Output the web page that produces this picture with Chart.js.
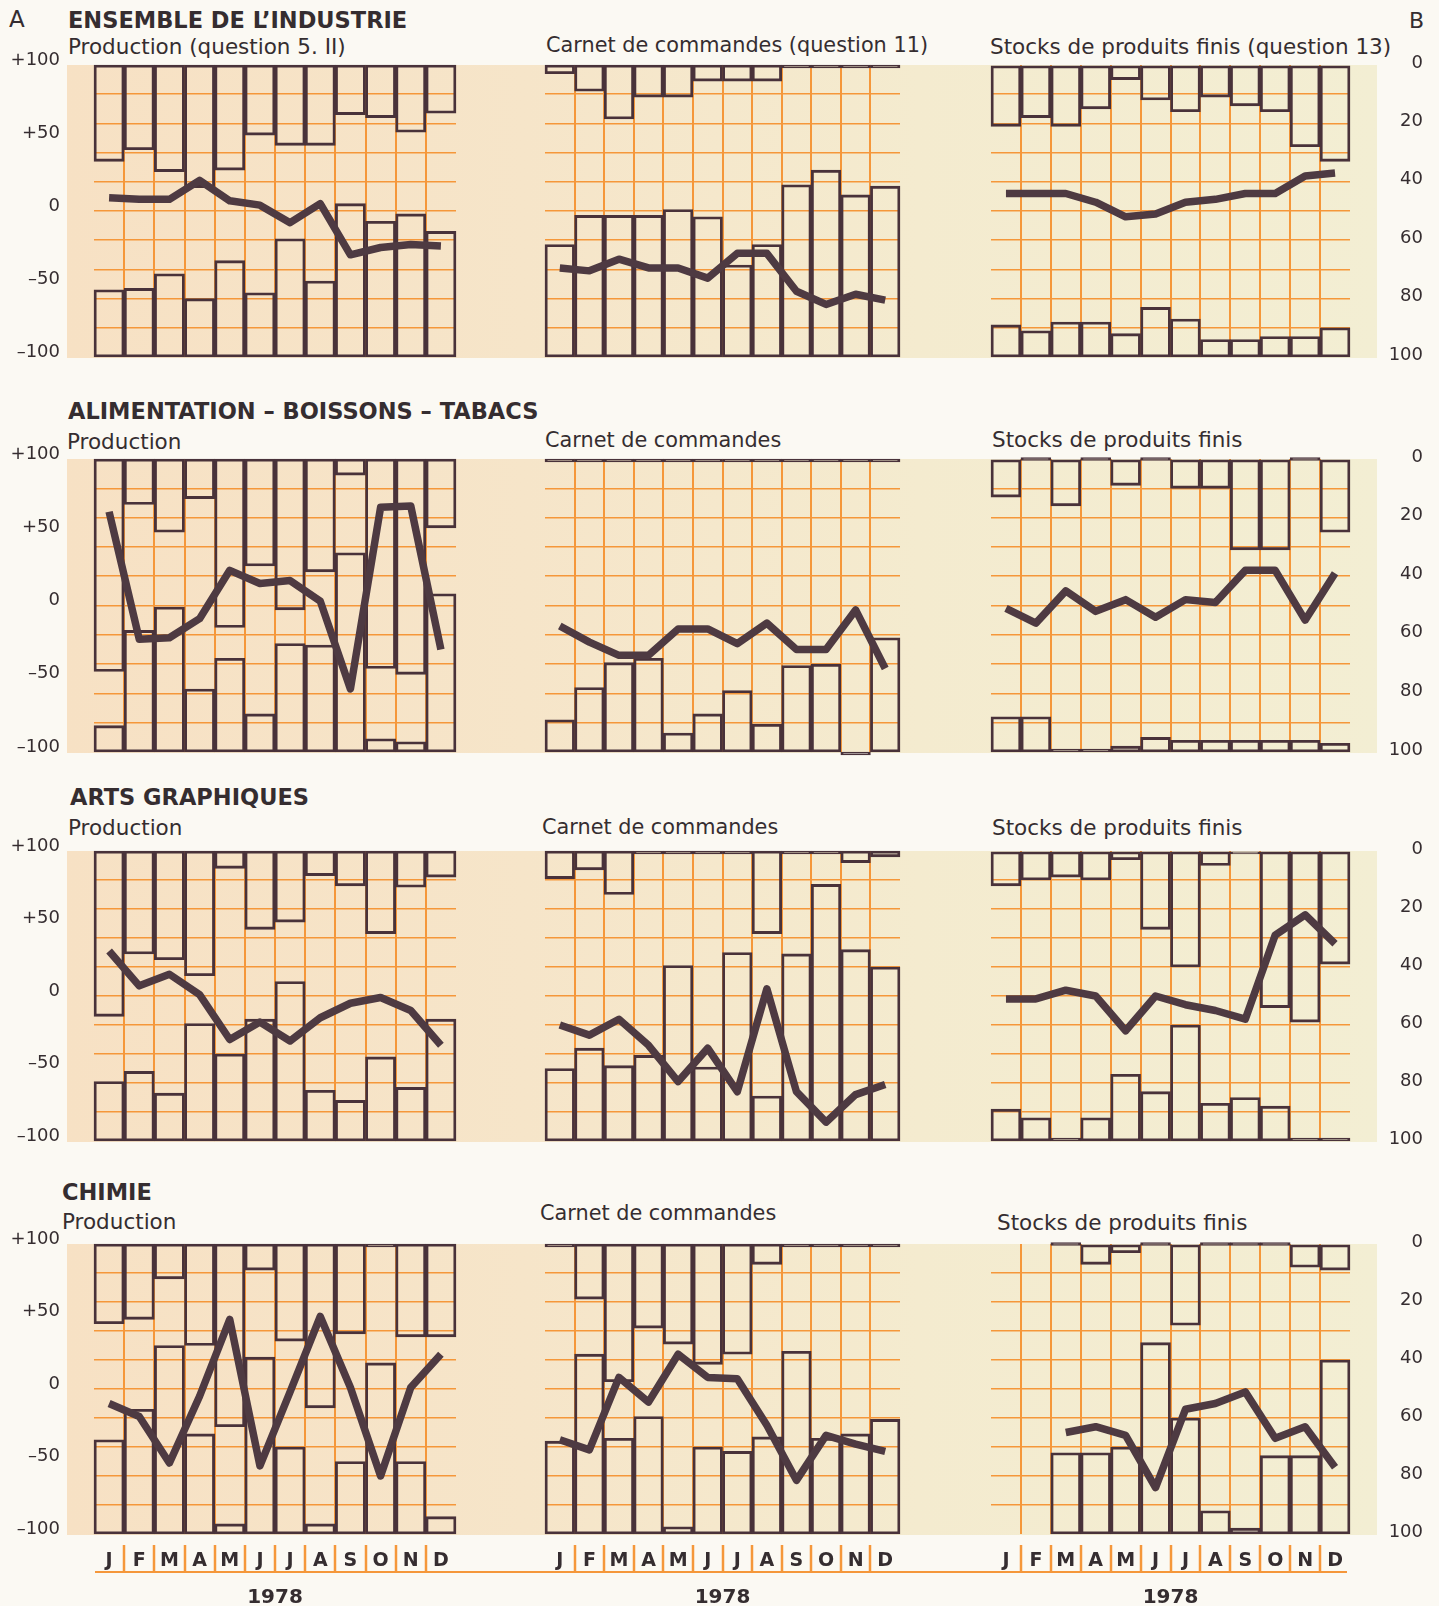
<!DOCTYPE html>
<html><head><meta charset="utf-8">
<script src="https://cdn.jsdelivr.net/npm/chart.js@4.4.1/dist/chart.umd.min.js"></script>
<style>
html,body{margin:0;padding:0;}
body{width:1439px;height:1606px;overflow:hidden;background:#fbf9f3;position:relative;font-family:"DejaVu Sans",Arial,sans-serif;color:#352d30;}
.band{position:absolute;left:67px;width:1310px;background:linear-gradient(90deg,#f7e1c4 0%,#f6e5c9 35%,#f4ebcf 65%,#f3eed3 100%);}
.t{position:absolute;white-space:nowrap;line-height:1;}
.h{font-weight:bold;font-size:22.5px;}
.s{font-size:21.5px;}
.c{font-size:20.8px;}
canvas{position:absolute;}
.rule{position:absolute;background:#f5973a;}
</style></head><body>
<div class="band" style="top:65px;height:293px"></div>
<div class="band" style="top:459px;height:294px"></div>
<div class="band" style="top:851px;height:291px"></div>
<div class="band" style="top:1244px;height:291px"></div>
<div class="rule" style="left:95px;top:1571px;width:1252px;height:2px"></div>

<div class="t" style="left:9px;top:8px;font-size:23px">A</div>
<div class="t" style="left:1409px;top:10px;font-size:22px">B</div>
<div class="t h" style="left:68px;top:9px">ENSEMBLE DE L’INDUSTRIE</div>
<div class="t s" style="left:68px;top:36px">Production (question 5. II)</div>
<div class="t s c" style="left:546px;top:35px">Carnet de commandes (question 11)</div>
<div class="t s" style="left:990px;top:36px">Stocks de produits finis (question 13)</div>

<div class="t h" style="left:68px;top:400px">ALIMENTATION – BOISSONS – TABACS</div>
<div class="t s" style="left:67px;top:431px">Production</div>
<div class="t s c" style="left:545px;top:430px">Carnet de commandes</div>
<div class="t s" style="left:992px;top:429px">Stocks de produits finis</div>

<div class="t h" style="left:70px;top:786px">ARTS GRAPHIQUES</div>
<div class="t s" style="left:68px;top:817px">Production</div>
<div class="t s c" style="left:542px;top:817px">Carnet de commandes</div>
<div class="t s" style="left:992px;top:817px">Stocks de produits finis</div>

<div class="t h" style="left:62px;top:1181px">CHIMIE</div>
<div class="t s" style="left:62px;top:1211px">Production</div>
<div class="t s c" style="left:540px;top:1203px">Carnet de commandes</div>
<div class="t s" style="left:997px;top:1212px">Stocks de produits finis</div>

<script>
// ---- categories & tick labels ----
const months = ['J','F','M','A','M','J','J','A','S','O','N','D'];
const scaleATicks = [100, 50, 0, -50, -100];
const scaleALabels = ['+100', '+50', '0', '–50', '–100'];
const scaleBTicks = [0, 20, 40, 60, 80, 100];
const yearLabel = '1978';

// ---- Ensemble de l'industrie (scale A: -100..+100; stocks scale B: 0..100) ----
const indProdTop  = [34, 42, 27, 16, 28, 52, 45, 45, 66, 64, 54, 67];
const indProdBot  = [-54, -53, -43, -60, -34, -56, -19, -48, 5, -7, -2, -14];
const indProdLine = [9, 8, 8, 21, 7, 4, -8, 5, -30, -25, -23, -24];
const indCarnTop  = [94, 82, 63, 78, 78, 89, 89, 89, 100, 100, 100, 100];
const indCarnBot  = [-23, -3, -3, -3, 1, -4, -37, -23, 18, 28, 11, 17];
const indCarnLine = [-39, -41, -33, -39, -39, -46, -29, -29, -55, -64, -57, -61];
const indStocTop  = [21, 18, 21, 15, 5, 12, 16, 11, 14, 16, 28, 33];
const indStocBot  = [89, 91, 88, 88, 92, 83, 87, 94, 94, 93, 93, 90];
const indStocLine = [44, 44, 44, 47, 52, 51, 47, 46, 44, 44, 38, 37];

// ---- Alimentation - Boissons - Tabacs ----
const aliProdTop  = [-45, 69, 50, 73, -15, 27, -3, 23, 89, -43, -47, 53];
const aliProdBot  = [-82, -17, -1, -57, -36, -74, -26, -27, 36, -91, -93, 8];
const aliProdLine = [64, -23, -22, -9, 24, 15, 17, 3, -57, 67, 68, -30];
const aliCarnTop  = [100, 100, 100, 100, 100, 100, 100, 100, 100, 100, 100, 100];
const aliCarnBot  = [-78, -56, -39, -36, -87, -74, -58, -81, -41, -40, -100, -22];
const aliCarnLine = [-14, -25, -34, -34, -16, -16, -26, -12, -30, -30, -3, -43];
const aliStocTop  = [13, 0, 16, 0, 9, 0, 10, 10, 31, 31, 0, 25];
const aliStocBot  = [88, 88, 100, 100, 98, 95, 96, 96, 96, 96, 96, 97];
const aliStocLine = [51, 56, 45, 52, 48, 54, 48, 49, 38, 38, 55, 39];

// ---- Arts graphiques ----
const artProdTop  = [-14, 29, 25, 14, 88, 46, 51, 83, 76, 43, 75, 82];
const artProdBot  = [-59, -52, -67, -19, -40, -16, 10, -65, -72, -42, -63, -16];
const artProdLine = [31, 7, 15, 1, -30, -18, -31, -15, -5, -1, -10, -34];
const artCarnTop  = [81, 87, 70, 100, 100, 100, 100, 43, 100, 100, 92, 96];
const artCarnBot  = [-50, -36, -48, -41, 21, -49, 30, -69, 29, 77, 32, 20];
const artCarnLine = [-20, -27, -16, -34, -59, -36, -66, 5, -66, -87, -68, -61];
const artStocTop  = [12, 10, 9, 10, 3, 27, 40, 5, 1, 54, 59, 39];
const artStocBot  = [89, 92, 100, 92, 77, 83, 60, 87, 85, 88, 100, 100];
const artStocLine = [51, 51, 48, 50, 62, 50, 53, 55, 58, 29, 22, 32];

// ---- Chimie ----
const chiProdTop  = [45, 48, 76, 30, -26, 82, 33, -13, 38, 100, 36, 36];
const chiProdBot  = [-35, -14, 30, -31, -93, 22, -40, -93, -50, 18, -50, -88];
const chiProdLine = [-10, -19, -51, -5, 48, -53, -2, 50, 1, -60, 1, 24];
const chiCarnTop  = [100, 62, 5, 42, 31, 17, 24, 86, 100, 100, 100, 100];
const chiCarnBot  = [-36, 24, -34, -19, -95, -40, -43, -33, 26, -34, -31, -21];
const chiCarnLine = [-35, -42, 8, -9, 24, 8, 7, -25, -63, -32, -38, -43];
const chiStocTop  = [null, null, 0, 7, 3, 0, 28, 0, 0, 0, 8, 9];
const chiStocBot  = [null, null, 72, 72, 70, 34, 60, 92, 98, 73, 73, 40];
const chiStocLine = [null, null, 65, 63, 66, 84, 57, 55, 51, 67, 63, 77];

// ---- layout & style ----
const ROWS = [{T:65,B:357},{T:459,B:752},{T:851,B:1141},{T:1244,B:1534}];
const COLS = [{L:94,R:456},{L:545,R:900},{L:991,R:1350}];
const RIGHT_LABEL_EDGE = 1423;
const ORANGE = '#f5973a';
const DARK = '#49323a';
const LINEC = '#4e3a42';
const TEXTC = '#352d30';
const FONT = '"DejaVu Sans", Arial, sans-serif';

function panel(ri, ci, top, bot, line) {
  const r = ROWS[ri], c = COLS[ci];
  const last = ri === 3, isB = ci === 2;
  const x0 = ci === 0 ? 0 : c.L - 14;
  const x1 = ci === 2 ? 1439 : c.R + 14;
  const y0 = r.T - 14;
  const xAxisH = last ? 76 : 0;
  const y1 = r.B + (last ? xAxisH : 14);
  const cv = document.createElement('canvas');
  cv.width = x1 - x0; cv.height = y1 - y0;
  cv.style.left = x0 + 'px'; cv.style.top = y0 + 'px';
  cv.style.width = (x1 - x0) + 'px'; cv.style.height = (y1 - y0) + 'px';
  document.body.appendChild(cv);
  const yW = ci === 0 ? c.L : (ci === 2 ? RIGHT_LABEL_EDGE - c.R : 0);
  const padR = ci === 2 ? 1439 - RIGHT_LABEL_EDGE : 14;
  const lo = isB ? 0 : -100, hi = 100;
  const topEdge = isB ? 0 : 100, botEdge = isB ? 100 : -100;
  const topData = top.map(v => v == null ? null : [v, topEdge]);
  const botData = bot.map(v => v == null ? null : [botEdge, v]);
  const barBase = {type:'bar', backgroundColor:'transparent', borderColor:DARK, borderWidth:2.2,
    borderSkipped:false, barPercentage:1, categoryPercentage:1, grouped:false, minBarLength:3, clip:8, order:2};
  const gridX = c2 => (c2.type !== 'tick' || c2.index === 0) ? 'rgba(0,0,0,0)' : ORANGE;
  const zeroPad = s => { s.paddingTop = 0; s.paddingBottom = 0; s.paddingLeft = 0; s.paddingRight = 0; };
  new Chart(cv, {
    type:'bar',
    data:{labels:months, datasets:[
      Object.assign({data:topData}, barBase),
      Object.assign({data:botData}, barBase),
      {type:'line', data:line, borderColor:LINEC, borderWidth:7.5, pointRadius:0, tension:0,
       borderJoinStyle:'round', borderCapStyle:'butt', order:0, clip:8, spanGaps:false}
    ]},
    options:{
      responsive:false, animation:false, events:[],
      layout:{padding:{left: ci === 0 ? 0 : 14, right: padR, top:14, bottom: last ? 0 : 14}},
      plugins:{legend:{display:false}, tooltip:{enabled:false}},
      scales:{
        x:{type:'category', offset:true,
          grid:{offset:true, color:gridX, lineWidth:2, drawTicks:last, tickLength:38,
                tickColor:gridX, tickWidth:2.5, tickBorderDash:[0,11,27,60]},
          border:{display:false},
          ticks:{display:last, autoSkip:false, maxRotation:0, padding:-22, color:TEXTC,
                 font:{family:FONT, size:19, weight:'bold'}},
          title:{display:last, text:yearLabel, color:TEXTC, padding:0,
                 font:{family:FONT, size:20, weight:'bold'}},
          afterFit: s => { s.height = xAxisH; zeroPad(s); }
        },
        y:{type:'linear', min:lo, max:hi, reverse:isB, position: isB ? 'right' : 'left',
          border:{display:false},
          grid:{drawTicks:false, lineWidth:1.6,
            color: g => {
              if (g.type !== 'tick') return 'rgba(0,0,0,0)';
              const v = Math.round(g.tick.value);
              const ok = isB ? (v % 10 === 0 && v > 0 && v < 100) : (Math.abs(v) % 20 === 0 && Math.abs(v) < 100);
              return ok ? ORANGE : 'rgba(0,0,0,0)';
            }},
          ticks:{stepSize:10, autoSkip:false, display: ci !== 1, color:TEXTC,
            font:{family:FONT, size:18},
            padding: isB ? 0 : 34,
            crossAlign: isB ? 'far' : 'near',
            labelOffset: isB ? -2 : -5,
            callback: v => {
              const n = Math.round(v);
              if (isB) return scaleBTicks.includes(n) ? String(n) : '';
              const i = scaleATicks.indexOf(n);
              return i >= 0 ? scaleALabels[i] : '';
            }},
          afterFit: s => { s.width = yW; zeroPad(s); }
        }
      }
    }
  });
}

panel(0,0, indProdTop, indProdBot, indProdLine);
panel(0,1, indCarnTop, indCarnBot, indCarnLine);
panel(0,2, indStocTop, indStocBot, indStocLine);
panel(1,0, aliProdTop, aliProdBot, aliProdLine);
panel(1,1, aliCarnTop, aliCarnBot, aliCarnLine);
panel(1,2, aliStocTop, aliStocBot, aliStocLine);
panel(2,0, artProdTop, artProdBot, artProdLine);
panel(2,1, artCarnTop, artCarnBot, artCarnLine);
panel(2,2, artStocTop, artStocBot, artStocLine);
panel(3,0, chiProdTop, chiProdBot, chiProdLine);
panel(3,1, chiCarnTop, chiCarnBot, chiCarnLine);
panel(3,2, chiStocTop, chiStocBot, chiStocLine);
</script>
</body></html>
